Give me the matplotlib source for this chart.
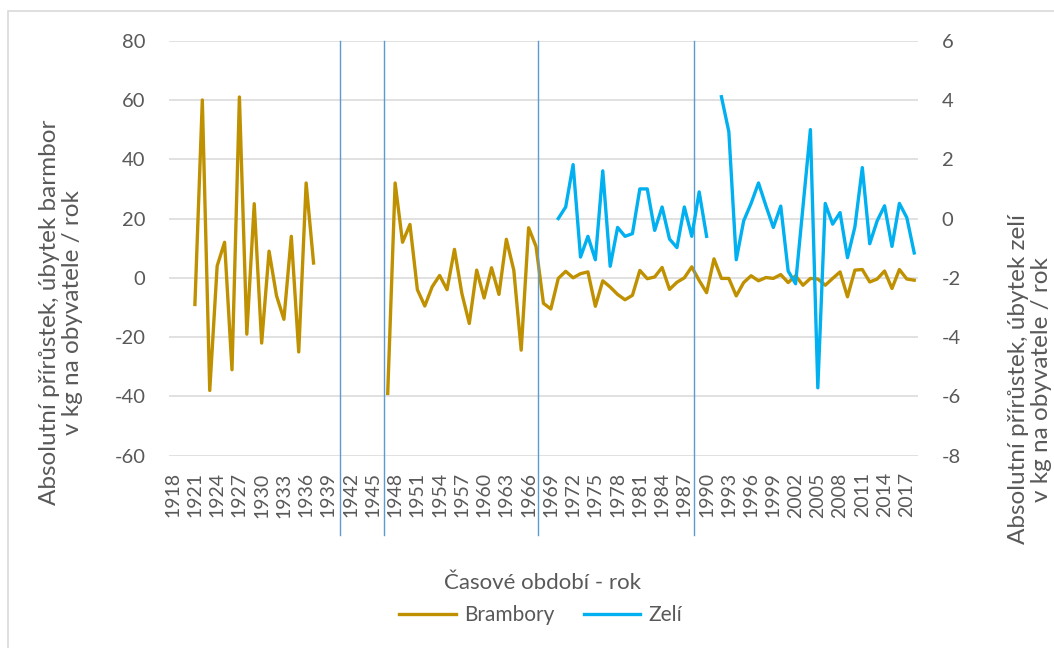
import matplotlib
matplotlib.use("Agg")
import matplotlib.pyplot as plt
from matplotlib.patches import Rectangle
import numpy as np

# Roky (kategorie osy x)
roky = list(range(1918, 2019))

# Brambory - absolutní přírůstek/úbytek (kg na obyvatele / rok)
brambory_1921_1937 = [-9, 60, -38, 4, 12, -31, 61, -19, 25, -22, 9, -6, -14, 14, -25, 32, 5]
brambory_1947_2018 = [-39, 32, 12, 18, -4, -9.5, -3, 0.8, -4, 9.6,
                      -5.3, -15.4, 2.6, -6.8, 3.4, -5.6, 13, 2.6, -24.4, 16.9,
                      10.6, -8.6, -10.5, -0.2, 2.2, 0, 1.4, 2, -9.6, -1,
                      -3.1, -5.6, -7.4, -5.9, 2.5, -0.3, 0.3, 3.5, -3.9, -1.5,
                      0, 3.7, -0.9, -5, 6.4, -0.2, -0.2, -6.1, -1.6, 0.7,
                      -1, 0.1, -0.2, 1.1, -1.6, 0.7, -2.5, -0.2, -0.4, -2.5,
                      -0.2, 2, -6.4, 2.6, 2.8, -1.4, -0.4, 2.3, -3.6, 2.8,
                      -0.4, -0.8]

# Zelí - absolutní přírůstek/úbytek (kg na obyvatele / rok)
zeli_1970_1990 = [0, 0.39, 1.82, -1.3, -0.6, -1.39, 1.61, -1.61, -0.3, -0.6,
                  -0.51, 1.0, 1.0, -0.4, 0.39, -0.69, -0.98, 0.39, -0.6, 0.9, -0.6]
zeli_1992_2018 = [4.11, 2.93, -1.39, -0.08, 0.51, 1.2, 0.43, -0.3, 0.42, -1.77,
                  -2.2, 0.4, 3.0, -5.71, 0.51, -0.19, 0.2, -1.32, -0.28, 1.72,
                  -0.85, -0.08, 0.43, -0.94, 0.51, 0.03, -1.16]

# svislé oddělovací čáry (období)
hranice_obdobi = [1940.5, 1946.5, 1967.2, 1988.3]

nan = [np.nan]
brambory = nan * 3 + brambory_1921_1937 + nan * 9 + brambory_1947_2018
zeli = nan * 52 + zeli_1970_1990 + nan + zeli_1992_2018

sedy = "#595959"
plt.rcParams['font.family'] = ['Lato', 'DejaVu Sans']
plt.rcParams['axes.unicode_minus'] = False

fig = plt.figure(figsize=(10.54, 6.48), dpi=100)
ax = fig.add_axes([0.1603, 0.2968, 0.7106, 0.6404])
ax2 = ax.twinx()

l1, = ax.plot(roky, brambory, color="#BF9000", lw=2.4, label="Brambory")
l2, = ax2.plot(roky, zeli, color="#00B0F0", lw=2.4, label="Zelí")

ax.set_xlim(1917.5, 2018.5)
ax.set_ylim(-60, 80)
ax2.set_ylim(-8, 6)
ax.set_yticks(range(-60, 81, 20))
ax2.set_yticks(range(-8, 7, 2))
ax.set_xticks(roky[::3])
ax.set_xticklabels([str(r) for r in roky[::3]], rotation=90)

ax.grid(axis="y", color="#D9D9D9", lw=1.1)
ax.set_axisbelow(True)
for a in (ax, ax2):
    for s in a.spines.values():
        s.set_visible(False)
ax.tick_params(axis="y", length=0, pad=17, labelsize=14.5, labelcolor=sedy)
ax.tick_params(axis="x", length=0, pad=12, labelsize=14, labelcolor=sedy)
ax2.tick_params(axis="y", length=0, pad=17, labelsize=14.5, labelcolor=sedy)

for x in hranice_obdobi:
    ax.axvline(x, ymin=-0.19, ymax=1, color="#5B9BD5", lw=1.0, clip_on=False)

fig.text(0.058, 0.518, "Absolutní přírůstek, úbytek barmbor\nv kg na obyvatele / rok",
         rotation=90, ha="center", va="center", fontsize=17.5, color=sedy, linespacing=1.1)
fig.text(0.977, 0.415, "Absolutní přírůstek, úbytek zelí\nv kg na obyvatele / rok",
         rotation=90, ha="center", va="center", fontsize=17.5, color=sedy, linespacing=1.1)
fig.text(0.515, 0.1, "Časové období - rok", ha="center", va="center", fontsize=16, color=sedy)

fig.legend(handles=[l1, l2], loc="center", bbox_to_anchor=(0.513, 0.051), ncol=2,
           frameon=False, fontsize=15, labelcolor=sedy, handlelength=2.7,
           columnspacing=1.4, handletextpad=0.4)

fig.add_artist(Rectangle((0.0076, -0.05), 1.2, 0.983 + 0.05, transform=fig.transFigure,
                         fill=False, edgecolor="#D9D9D9", lw=1.2))

fig.savefig("out.png", dpi=100)
